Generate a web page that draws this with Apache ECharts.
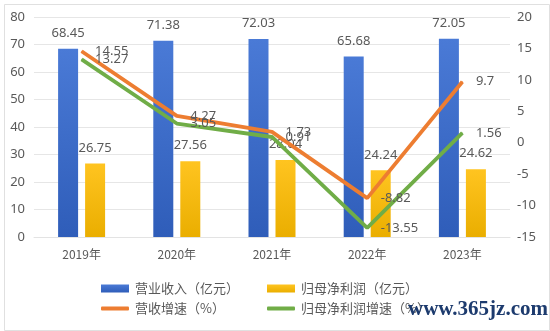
<!DOCTYPE html>
<html><head><meta charset="utf-8">
<script src="https://cdn.jsdelivr.net/npm/echarts@6/dist/echarts.min.js"></script>
<style>html,body{margin:0;padding:0;background:#fff}#c{width:550px;height:331px}</style>
</head><body><div id="c"></div>
<script>
const categories = ['2019年','2020年','2021年','2022年','2023年'];
const revenue = [68.45, 71.38, 72.03, 65.68, 72.05];
const netProfit = [26.75, 27.56, 28.04, 24.24, 24.62];
const revenueGrowth = [14.55, 4.27, 1.73, -8.82, 9.7];
const profitGrowth = [13.27, 3.05, 0.91, -13.55, 1.56];
const names = ['营业收入（亿元）','归母净利润（亿元）','营收增速（%）','归母净利润增速（%）'];

const FONT = '"Noto Sans", "Noto Sans CJK SC", sans-serif';
const CJK = '"Noto Sans CJK SC", sans-serif';
const txt = '#595959';
const chart = echarts.init(document.getElementById('c'), null, {renderer:'canvas'});
function leg(name, left, top, icon, h){
  return {data:[name], left:left, top:top, icon:icon, itemWidth:28, itemHeight:h, itemGap:0,
    selectedMode:false, textStyle:{fontFamily:CJK, fontSize:13, color:txt, padding:[0,0,0,1]}, padding:0};
}
chart.setOption({
  animation:false,
  backgroundColor:'#fff',
  textStyle:{fontFamily:FONT},
  grid:{left:34, right:40, top:17, bottom:94},
  legend:[
    leg(names[0], 101, 282, 'rect', 8),
    leg(names[1], 267, 282, 'rect', 8),
    leg(names[2], 101, 302, 'roundRect', 4),
    leg(names[3], 267, 302, 'roundRect', 4)
  ],
  xAxis:{type:'category', data:categories,
    axisLine:{show:true, lineStyle:{color:'#e3e3e3'}}, axisTick:{show:false},
    axisLabel:{color:txt, fontSize:12, fontFamily:CJK, margin:11}},
  yAxis:[
    {type:'value', min:0, max:80, interval:10, position:'left',
     axisLine:{show:false}, axisTick:{show:false},
     axisLabel:{color:txt, fontSize:13, margin:9},
     splitLine:{lineStyle:{color:'#e6e6e6'}}},
    {type:'value', min:-15, max:20, interval:5, position:'right',
     axisLine:{show:false}, axisTick:{show:false},
     axisLabel:{color:txt, fontSize:13, margin:7, align:'left'},
     splitLine:{show:false}}
  ],
  series:[
    {name:names[0], type:'bar', data:revenue, barWidth:20, barGap:'35%',
     itemStyle:{color:new echarts.graphic.LinearGradient(0,0,0,1,[{offset:0,color:'#4a7ad6'},{offset:1,color:'#2f5db9'}])},
     label:{show:true, position:'top', distance:9, color:txt, fontSize:13}},
    {name:names[1], type:'bar', data:netProfit, barWidth:20,
     itemStyle:{color:new echarts.graphic.LinearGradient(0,0,0,1,[{offset:0,color:'#ffc420'},{offset:1,color:'#eaae00'}])},
     label:{show:true, position:'top', distance:9, color:txt, fontSize:13}},
    {name:names[2], type:'line', yAxisIndex:1, data:revenueGrowth,
     symbol:'circle', symbolSize:1, lineStyle:{color:'#ed7d31', width:3.8}, itemStyle:{color:'#ed7d31'},
     label:{show:true, position:'right', distance:13, color:txt, fontSize:13}},
    {name:names[3], type:'line', yAxisIndex:1, data:profitGrowth,
     symbol:'circle', symbolSize:1, lineStyle:{color:'#70ad47', width:3.8}, itemStyle:{color:'#70ad47'},
     label:{show:true, position:'right', distance:13, color:txt, fontSize:13}}
  ],
  graphic:[
    {type:'rect', left:2, top:2, shape:{width:545, height:326}, style:{fill:'none', stroke:'#e0e0e0', lineWidth:1}, silent:true},
    {type:'text', right:2, top:299, style:{text:'www.365jz.com', fill:'#1d3b6e', font:'bold 21px "Liberation Serif", serif'}, z:100}
  ]
});
</script></body></html>
